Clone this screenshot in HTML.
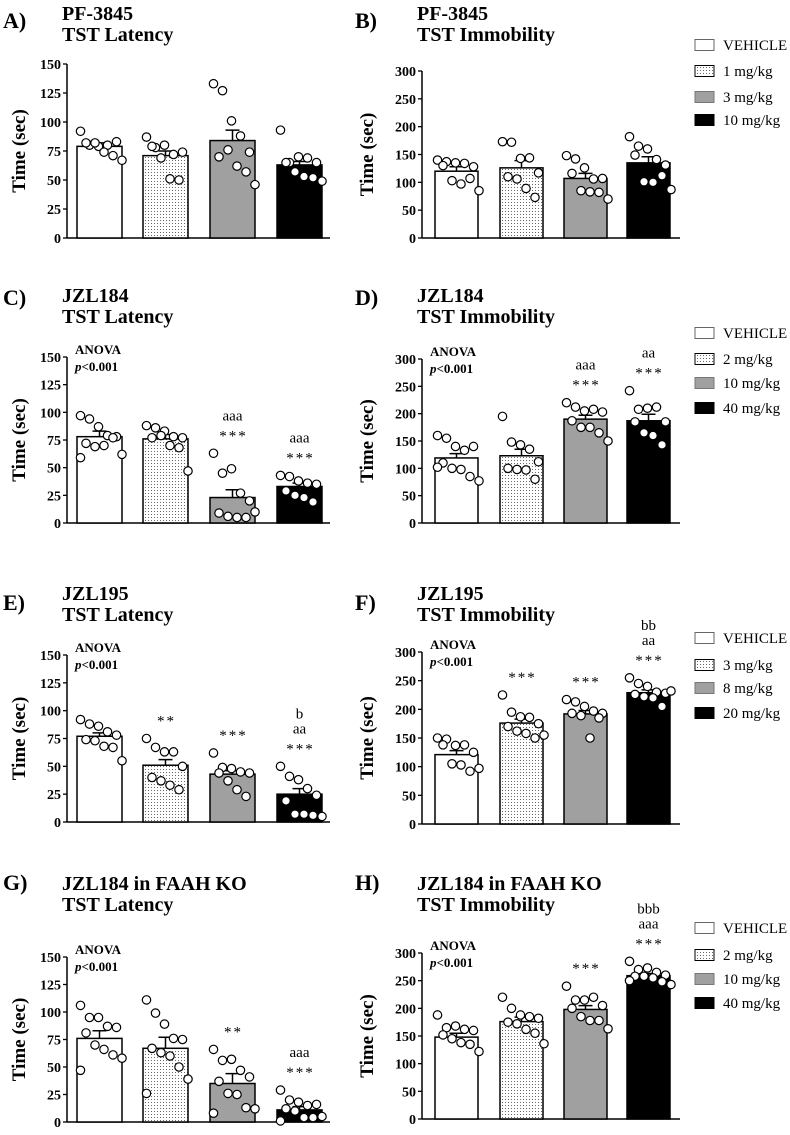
<!DOCTYPE html>
<html><head><meta charset="utf-8"><style>
html,body{margin:0;padding:0;background:#fff;}
svg text{font-family:"Liberation Serif",serif;}
</style></head><body>
<svg id="fig" width="790" height="1130" viewBox="0 0 790 1130" xmlns="http://www.w3.org/2000/svg">
<defs>
<pattern id="dots" width="3" height="3" patternUnits="userSpaceOnUse">
<rect width="3" height="3" fill="#fff"/><rect x="1" y="1" width="1" height="1" fill="#666"/>
</pattern>
</defs>
</svg>
<script>
// ---- data ----
const groupNames=["vehicle","dose-low","dose-mid","dose-high"];
const aMeans=[79,71,84,63];
const aSem=[3,4,9,3];
const aPts=[[92,80,79,80,83,82,82,74,71,67],[87,78,80,72,74,79,69,51,50],[133,127,101,88,74,70,76,62,57,46],[93,65,70,69,65,65,57,53,52,49]];
const bMeans=[120,126,107,135];
const bSem=[8,13,9,11];
const bPts=[[140,137,135,134,128,130,103,97,107,85],[173,172,143,144,117,110,106,89,73],[148,142,126,106,107,116,85,83,82,70],[182,165,160,141,131,149,101,100,112,87]];
const cMeans=[78,76,23,33];
const cSem=[5,4,7,3];
const cPts=[[97,94,87,79,78,72,69,70,77,62,59],[88,86,83,78,77,77,79,70,68,47],[63,45,49,27,20,9,6,5,5,10],[43,42,38,36,35,29,25,23,19]];
const dMeans=[119,123,190,187];
const dSem=[8,12,7,12];
const dPts=[[160,155,140,133,140,110,100,98,85,77,102],[195,148,143,135,112,100,98,97,80],[220,212,205,208,203,187,175,175,165,150],[242,208,210,212,185,185,165,160,143]];
const eMeans=[77,51,43,25];
const eSem=[3,5,3,5];
const ePts=[[92,88,86,81,78,74,73,68,67,55],[75,67,63,63,50,40,37,33,29],[62,49,48,45,44,44,37,29,23],[50,41,38,30,24,19,7,7,6,5]];
const fMeans=[121,176,192,229];
const fSem=[7,7,6,5];
const fPts=[[150,148,137,138,125,138,105,103,92,97],[225,195,187,186,175,170,162,158,150,155],[217,213,205,197,193,193,189,150,185],[255,245,240,230,228,226,222,220,205,232]];
const gMeans=[76,67,35,11];
const gSem=[7,10,9,3];
const gPts=[[106,95,95,87,86,81,70,66,61,58,47],[111,99,89,76,75,67,63,60,50,39,26],[66,56,57,47,41,37,26,25,13,12,8],[29,20,18,15,16,12,10,4,4,5,1]];
const hMeans=[148,176,198,259];
const hSem=[7,8,7,4];
const hPts=[[188,165,168,162,160,152,145,138,135,122],[220,200,188,185,182,175,172,162,155,136],[240,215,215,220,205,200,185,178,178,163],[285,270,273,265,260,258,258,255,248,243,250]];
const latTicks=[0,25,50,75,100,125,150];
const immTicks=[0,50,100,150,200,250,300];
const aAnn=[[],[],[],[]];
const bAnn=[[],[],[],[]];
const cAnn=[[],[],["aaa","***"],["aaa","***"]];
const dAnn=[[],[],["aaa","***"],["aa","***"]];
const eAnn=[[],["**"],["***"],["b","aa","***"]];
const fAnn=[[],["***"],["***"],["bb","aa","***"]];
const gAnn=[[],[],["**"],["aaa","***"]];
const hAnn=[[],[],["***"],["bbb","aaa","***"]];
const bLegend=["VEHICLE","1 mg/kg","3 mg/kg","10 mg/kg"];
const dLegend=["VEHICLE","2 mg/kg","10 mg/kg","40 mg/kg"];
const fLegend=["VEHICLE","3 mg/kg","8 mg/kg","20 mg/kg"];
const hLegend=["VEHICLE","2 mg/kg","10 mg/kg","40 mg/kg"];

const NS="http://www.w3.org/2000/svg";
const svg=document.getElementById('fig');
const fills=["#fff","url(#dots)","#a0a0a0","#000"];
function mk(tag,attrs,parent,txt){const e=document.createElementNS(NS,tag);for(const k in attrs)e.setAttribute(k,attrs[k]);if(txt!==undefined)e.textContent=txt;(parent||svg).appendChild(e);return e;}

function panel(cfg){
  const g=mk('g',{});
  
  
  const left=cfg.side==='L';
  const ax=left?67:422;
  const xEnd=left?ax+263:ax+258;
  const offs=left?[10,76,143,210]:[13,78,142,205];
  const bw=left?45:43;
  const y=v=>cfg.y0-v/cfg.max*(cfg.y0-cfg.yTop);
  const lt=mk('text',{x:left?3:355,y:cfg.lb,'font-size':22,'font-weight':'bold'},g,cfg.id.toUpperCase()+')');
  
  const t1=mk('text',{x:left?62:417,y:cfg.t1,'font-size':20,'font-weight':'bold'},g,cfg.title1);
  
  const t2=mk('text',{x:left?62:417,y:cfg.t1+21,'font-size':20,'font-weight':'bold'},g,cfg.title2);
  
  const ya=mk('line',{x1:ax,y1:cfg.yTop,x2:ax,y2:cfg.y0,stroke:'#000','stroke-width':1.5},g);
  
  const xa=mk('line',{x1:ax,y1:cfg.y0,x2:xEnd,y2:cfg.y0,stroke:'#000','stroke-width':1.5},g);
  
  cfg.ticks.forEach(t=>{
    mk('line',{x1:ax-4,y1:y(t),x2:ax,y2:y(t),stroke:'#000','stroke-width':1.3},g);
    const tl=mk('text',{x:ax-6,y:y(t)+5,'font-size':14,'font-weight':'bold','text-anchor':'end'},g,String(t));
    
  });
  const yc=(cfg.y0+cfg.yTop)/2;
  const yt=mk('text',{x:0,y:0,'font-size':19,'font-weight':'bold','text-anchor':'middle',transform:`translate(${left?25:373},${yc}) rotate(-90)`},g,'Time (sec)');
  
  if(cfg.anova){
    const a1=mk('text',{x:ax+8,y:cfg.yTop-3,'font-size':13,'font-weight':'bold'},g,'ANOVA');
    
    const a2=mk('text',{x:ax+8,y:cfg.yTop+14,'font-size':13,'font-weight':'bold'},g);
    
    mk('tspan',{'font-style':'italic'},a2,'p');mk('tspan',{},a2,'<0.001');
  }
  cfg.means.forEach((m,i)=>{
    const x0=ax+offs[i],cx=x0+bw/2;
    const r=mk('rect',{x:x0,y:y(m),width:bw,height:cfg.y0-y(m),fill:fills[i],stroke:'#000','stroke-width':1.5},g);
    
    const top=y(m+cfg.sem[i]);
    const el=mk('path',{d:`M${cx},${y(m)}V${top}M${cx-7},${top}H${cx+7}`,stroke:'#000','stroke-width':1.5,fill:'none'},g);
    
    const pts=cfg.pts[i];
    pts.forEach((v,k)=>{
      const dx=((k%5)-2)*9+(Math.floor(k/5)%2?4.5:-1);
      const c=mk('circle',{cx:cx+dx,cy:y(v),r:4.2,fill:'#fff',stroke:'#000','stroke-width':1.2},g);
      
    });
    const ann=cfg.ann[i];
    if(ann.length){
      const base=y(Math.max(...pts))-18;
      ann.forEach((s,j)=>{
        const isStar=s.indexOf('*')>=0;
        const yy=base-(ann.length-1-j)*15+(isStar?5:0);
        const at=mk('text',{x:cx+(isStar?1:0),y:yy,'font-size':15,'text-anchor':'middle','letter-spacing':isStar?'2':'0'},g,s);
        
      });
    }
  });
  if(cfg.legend){
    const lg=mk('g',{},g);
    
    cfg.legend.forEach((s,i)=>{
      const ly=cfg.legY[i];
      mk('rect',{x:695,y:ly-5.5,width:19,height:11,fill:fills[i],stroke:i===0?'#666':(i===2?'#777':'#000'),'stroke-width':1},lg);
      const tx=mk('text',{x:723,y:ly+5,'font-size':15},lg,s);
      
    });
  }
}
panel({id:'a',side:'L',y0:238,yTop:64,max:150,ticks:latTicks,means:aMeans,sem:aSem,pts:aPts,ann:aAnn,lb:28,t1:20,title1:'PF-3845',title2:'TST Latency'});
panel({id:'b',side:'R',y0:238,yTop:71,max:300,ticks:immTicks,means:bMeans,sem:bSem,pts:bPts,ann:bAnn,lb:28,t1:20,title1:'PF-3845',title2:'TST Immobility',legend:bLegend,legY:[45,71,97,120]});
panel({id:'c',side:'L',y0:523,yTop:357,max:150,ticks:latTicks,means:cMeans,sem:cSem,pts:cPts,ann:cAnn,lb:305,t1:302,title1:'JZL184',title2:'TST Latency',anova:true});
panel({id:'d',side:'R',y0:523,yTop:359,max:300,ticks:immTicks,means:dMeans,sem:dSem,pts:dPts,ann:dAnn,lb:305,t1:302,title1:'JZL184',title2:'TST Immobility',anova:true,legend:dLegend,legY:[333,359,383,408]});
panel({id:'e',side:'L',y0:822,yTop:655,max:150,ticks:latTicks,means:eMeans,sem:eSem,pts:ePts,ann:eAnn,lb:610,t1:600,title1:'JZL195',title2:'TST Latency',anova:true});
panel({id:'f',side:'R',y0:824,yTop:652,max:300,ticks:immTicks,means:fMeans,sem:fSem,pts:fPts,ann:fAnn,lb:610,t1:600,title1:'JZL195',title2:'TST Immobility',anova:true,legend:fLegend,legY:[638,665,688,713]});
panel({id:'g',side:'L',y0:1122,yTop:957,max:150,ticks:latTicks,means:gMeans,sem:gSem,pts:gPts,ann:gAnn,lb:890,t1:890,title1:'JZL184 in FAAH KO',title2:'TST Latency',anova:true});
panel({id:'h',side:'R',y0:1119,yTop:953,max:300,ticks:immTicks,means:hMeans,sem:hSem,pts:hPts,ann:hAnn,lb:890,t1:890,title1:'JZL184 in FAAH KO',title2:'TST Immobility',anova:true,legend:hLegend,legY:[928,955,979,1003]});
</script>
</body></html>
